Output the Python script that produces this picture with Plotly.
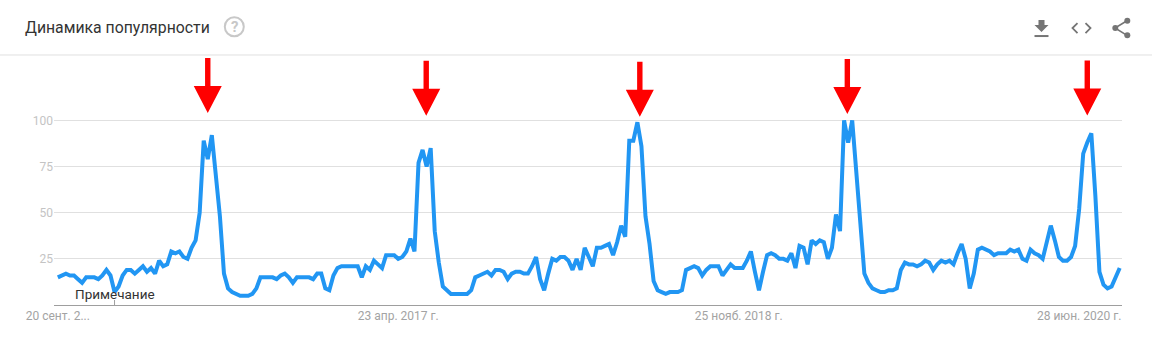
import plotly.graph_objects as go

values = [15,16,17,16,16,14,12,15,15,15,14,16,19,16,7,10,16,19,19,17,19,21,18,20,17,24,21,22,29,28,29,26,25,31,35,50,89,79,92,70,48,17,9,7,6,5,5,5,6,9,15,15,15,15,14,16,17,15,12,15,15,15,15,14,17,17,9,8,16,20,21,21,21,21,21,15,21,19,24,22,20,27,27,27,25,26,29,36,29,77,84,75,85,40,23,10,8,6,6,6,6,6,8,15,16,17,18,16,19,19,18,14,17,18,18,17,17,21,26,14,8,17,25,24,26,26,24,19,25,19,31,26,21,31,31,32,33,27,34,43,37,89,89,99,86,48,33,13,8,7,6,7,7,7,8,19,20,21,20,16,19,21,21,21,16,19,22,20,20,20,24,29,18,8,18,27,28,27,25,25,24,28,20,32,31,22,35,33,35,34,25,31,49,40,100,88,100,73,50,17,12,9,8,7,7,8,8,9,19,23,22,22,21,22,24,23,19,22,24,23,24,22,28,33,25,9,17,30,31,30,29,27,28,28,28,30,29,30,25,24,30,28,27,25,33,43,35,26,24,24,26,32,52,82,88,93,59,18,11,9,10,15,20]
y_ticks = [25, 50, 75, 100]
x_tick_index = [0, 84, 168, 252]
x_tick_labels = ["20 сент. 2...", "23 апр. 2017 г.", "25 нояб. 2018 г.", "28 июн. 2020 г."]
arrow_index = [37.0, 90.9, 143.6, 194.8, 254]
arrow_tip_value = [104, 102.5, 102, 103.5, 102.6]
note_index = 14
title_text = "Динамика популярности"
note_text = "Примечание"

W, H = 1152, 363
L, R, T, B = 54, 1122, 54, 305.5
X0, STEP = 57.8, (1119.7 - 57.8) / (len(values) - 1)
xr = [(L - X0) / STEP, (R - X0) / STEP]
YTOP = (B - T) / 1.85

def px(x): return (x - L) / (R - L)
def py(y): return (B - y) / (B - T)

shapes = []
# header divider
shapes.append(dict(type="line", xref="paper", yref="paper", x0=px(0), x1=px(W), y0=py(55), y1=py(55),
                   line=dict(color="#e0e0e0", width=1), layer="below"))
# annotation tick
shapes.append(dict(type="line", xref="x", yref="paper", x0=note_index, x1=note_index, y0=0, y1=py(300.5),
                   line=dict(color="#9e9e9e", width=1)))
# red arrows
for i, v in zip(arrow_index, arrow_tip_value):
    shapes.append(dict(type="path", xref="x", yref="y", xsizemode="pixel", ysizemode="pixel",
                       xanchor=i, yanchor=v,
                       path="M0,0 L-14,27 L-2.7,27 L-2.7,55 L2.7,55 L2.7,27 L14,27 Z",
                       fillcolor="#ff0000", line=dict(width=0)))

def icon(cx, cy, path, fill="#757575", stroke=None, w=0):
    shapes.append(dict(type="path", xref="paper", yref="paper", xsizemode="pixel", ysizemode="pixel",
                       xanchor=px(cx), yanchor=py(cy), path=path,
                       fillcolor=fill if fill else "rgba(0,0,0,0)",
                       line=dict(color=stroke or "rgba(0,0,0,0)", width=w)))

# help circle
shapes.append(dict(type="circle", xref="paper", yref="paper", xsizemode="pixel", ysizemode="pixel",
                   xanchor=px(234.3), yanchor=py(26.7), x0=-9.5, x1=9.5, y0=-9.5, y1=9.5,
                   line=dict(color="#c8c8c8", width=2), fillcolor="rgba(0,0,0,0)"))
# download
icon(1041.5, 27, "M-3,7 L3,7 L3,2 L7,2 L0,-5 L-7,2 L-3,2 Z")
icon(1041.5, 36, "M-7,1 L7,1 L7,-1 L-7,-1 Z")
# code
icon(1081.5, 28, "M-4,5 L-9,0 L-4,-5", fill=None, stroke="#757575", w=1.8)
icon(1081.5, 28, "M4,5 L9,0 L4,-5", fill=None, stroke="#757575", w=1.8)
# share
icon(1121, 28, "M6,7.3 L-6,0 L6,-7.3", fill=None, stroke="#757575", w=1.6)
for cx, cy in [(1127.3, 20.7), (1115.3, 28), (1127.3, 35.2)]:
    shapes.append(dict(type="circle", xref="paper", yref="paper", xsizemode="pixel", ysizemode="pixel",
                       xanchor=px(cx), yanchor=py(cy), x0=-3, x1=3, y0=-3, y1=3,
                       fillcolor="#757575", line=dict(width=0)))

annotations = [
    dict(xref="paper", yref="paper", x=px(23), y=py(27), xanchor="left", yanchor="middle", showarrow=False,
         text=title_text, font=dict(family="Roboto", size=15.8, color="#333333")),
    dict(xref="paper", yref="paper", x=px(234.3), y=py(26.7), xanchor="center", yanchor="middle", showarrow=False,
         text="<b>?</b>", font=dict(family="Roboto", size=15, color="#c8c8c8")),
    dict(xref="x", yref="paper", x=note_index, y=py(294.5), xanchor="center", yanchor="middle", showarrow=False,
         text=note_text, font=dict(family="Roboto", size=13.5, color="#333333")),
]

fig = go.Figure(go.Scatter(x=list(range(len(values))), y=values, mode="lines",
                           line=dict(color="#2196f3", width=4), hoverinfo="skip", cliponaxis=False))
fig.update_layout(
    width=W, height=H, autosize=False, paper_bgcolor="white", plot_bgcolor="white", showlegend=False,
    margin=dict(l=L, r=W - R, t=T, b=H - B, pad=0),
    shapes=shapes, annotations=annotations,
    font=dict(family="Roboto"),
    xaxis=dict(range=xr, tickmode="array", tickvals=x_tick_index, ticktext=x_tick_labels, showgrid=False,
               zeroline=False, showline=True, linecolor="#9e9e9e", linewidth=1, ticks="",
               tickfont=dict(family="Roboto", size=12, color="#a3a3a3")),
    yaxis=dict(range=[0, YTOP], tickmode="array", tickvals=y_ticks, showgrid=True, gridcolor="#e0e0e0", gridwidth=1,
               zeroline=False, showline=False, ticks="", tickfont=dict(family="Roboto", size=12, color="#c4c4c4")),
)
fig.write_html("out.html", config=dict(displayModeBar=False),
               post_script="document.body.style.margin='0';document.body.style.overflow='hidden';")
